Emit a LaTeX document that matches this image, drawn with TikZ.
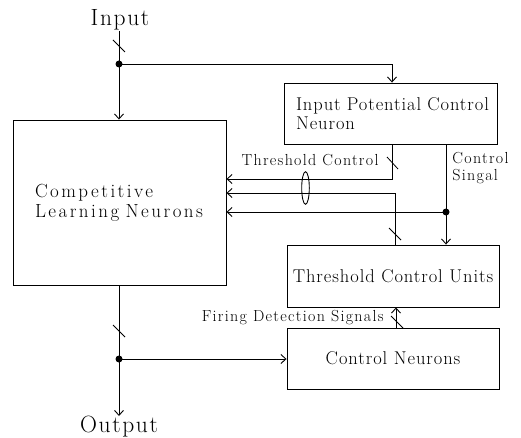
\documentclass[tikz,border=0pt]{standalone}
\usepackage{fontspec}
\usetikzlibrary{arrows.meta}
\newfontfamily\boxfam{Latin Modern Roman}[LetterSpace=5]
\newfontfamily\clnfam{Latin Modern Roman}[LetterSpace=13]
\newfontfamily\lblfam{Latin Modern Roman}[LetterSpace=8]
\newfontfamily\ttlfam{Latin Modern Roman}[LetterSpace=7]
\newcommand{\boxfont}{\boxfam\fontsize{18.5}{19}\selectfont}
\newcommand{\clnfont}{\clnfam\fontsize{19}{20}\selectfont}
\newcommand{\lblfont}{\lblfam\fontsize{16}{17}\selectfont}
\newcommand{\ttlfont}{\ttlfam\fontsize{23.5}{26}\selectfont}
\begin{document}
\begin{tikzpicture}[x=1pt,y=-1pt,line width=0.9pt,
  >={Straight Barb[length=5pt,width=9pt,line width=0.9pt]},
  box/.style={draw,rectangle,inner sep=0pt,font=\boxfont},
  lbl/.style={inner sep=0pt,font=\lblfont},
  ttl/.style={inner sep=0pt,font=\ttlfont},
  dot/.style={circle,fill,inner sep=0pt,minimum size=7pt},
  tick/.style={line width=0.8pt}]
\useasboundingbox (0,0) rectangle (521,438);
% boxes
\node[box,font=\clnfont,minimum width=213pt,minimum height=165pt,text width=205pt,align=left,inner xsep=4pt] (cln) at (119.5,202.5) {\hspace*{18pt}\mbox{Competitive}\\\hspace*{18pt}\mbox{Learning Neurons}};
\node[box,minimum width=213pt,minimum height=61pt,text width=205pt,align=left,inner xsep=4pt] (ipcn) at (390.5,113.5) {\hspace*{8pt}\mbox{Input Potential Control}\\\hspace*{8pt}\mbox{Neuron}};
\node[box,minimum width=212pt,minimum height=62pt] (tcu) at (393,276) {Threshold Control Units};
\node[box,minimum width=212pt,minimum height=61pt] (cn) at (393,358.5) {Control Neurons};
% titles
\node[ttl,anchor=south] (inp) at (120,31) {Input};
\node[ttl,anchor=north] (outp) at (119,416) {Output};
% junctions
\coordinate (dIn) at (119,64);
\coordinate (ipIn) at (392,83);
\coordinate (tc) at (392,179);
\coordinate (l2) at (395,193);
\coordinate (cs) at (446,212);
\coordinate (fd) at (396,318);
\coordinate (dOut) at (119,359);
% connectors
\draw[->] (inp.south -| dIn) -- (cln.north -| dIn);
\draw[->] (dIn) -| (ipcn.north -| ipIn);
\draw[->] (ipcn.south -| tc) |- (cln.east |- tc);
\draw[->] (tcu.north -| l2) |- (cln.east |- l2);
\draw[->] (ipcn.south -| cs) -- (tcu.north -| cs);
\draw[->] (cs) -- (cln.east |- cs);
\draw[->] (cn.north -| fd) -- (tcu.south -| fd);
\draw[->] (cln.south -| dOut) -- (outp.north -| dOut);
\draw[->] (dOut) -- (cn.west |- dOut);
\node[dot] at (dIn) {};
\node[dot] at (cs) {};
\node[dot] at (dOut) {};
% bus ticks
\draw[tick] (113,40) -- (125,52);
\draw[tick] (387,157) -- (398,169);
\draw[tick] (389,228) -- (401,240);
\draw[tick] (391,316) -- (403,328);
\draw[tick] (113,325) -- (125,337);
% bundle ellipse
\draw (305.5,188) ellipse [x radius=3.8pt,y radius=16.3pt];
% labels
\node[lbl,anchor=east] at (379,160) {Threshold Control};
\node[lbl,anchor=north west,align=left] at (452,152) {Control\\Singal};
\node[lbl,anchor=east] at (384,318) {Firing Detection Signals};
\end{tikzpicture}
\end{document}
